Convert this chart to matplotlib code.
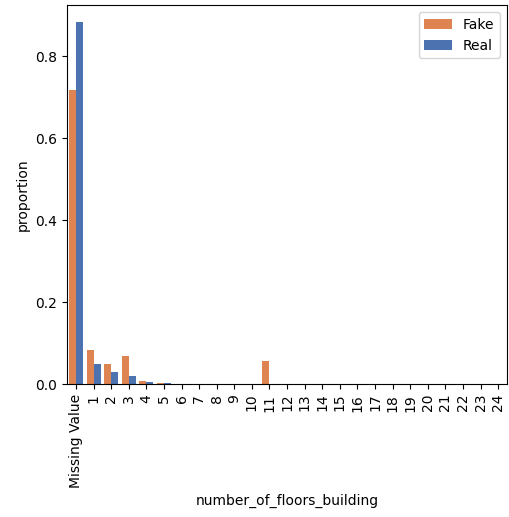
import matplotlib
matplotlib.use("Agg")
import matplotlib.pyplot as plt
import numpy as np

categories = ["Missing Value"] + [str(i) for i in range(1, 25)]
fake = [0.719, 0.083, 0.050, 0.068, 0.008, 0.003, 0.001, 0.001, 0.0005, 0.0003, 0.0003,
        0.056, 0.0003, 0.0002, 0.0002, 0.0001, 0.0001, 0.0001, 0.0001, 0.0001, 0.0001,
        0.0001, 0.0001, 0.0001, 0.0001]
real = [0.883, 0.050, 0.030, 0.020, 0.006, 0.002, 0.001, 0.0005, 0.0003, 0.0002, 0.0001,
        0.0001, 0.0001, 0.0001, 0.0001, 0.0, 0.0, 0.0, 0.0, 0.0, 0.0,
        0.0, 0.0, 0.0, 0.0]

fig = plt.figure(figsize=(5.09, 5.17), dpi=100)
ax = fig.add_axes([0.132, 0.257, 0.864, 0.733])

x = np.arange(len(categories))
w = 0.4
ax.bar(x - w / 2, fake, width=w, color="#dd8452", label="Fake")
ax.bar(x + w / 2, real, width=w, color="#4c72b0", label="Real")

ax.set_xlim(-0.5, len(categories) - 0.5)
ax.set_ylim(0, 0.925)
ax.set_xticks(x)
ax.set_xticklabels(categories, rotation=90)
ax.set_yticks([0, 0.2, 0.4, 0.6, 0.8])
ax.set_ylabel("proportion")
ax.set_xlabel("number_of_floors_building")
ax.legend(loc="upper right")

fig.savefig("out.png", dpi=100)
